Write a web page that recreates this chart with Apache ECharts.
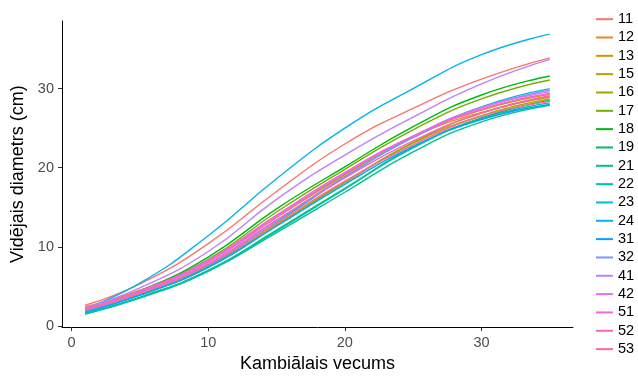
<!DOCTYPE html>
<html>
<head>
<meta charset="utf-8">
<script src="https://cdn.jsdelivr.net/npm/echarts@6/dist/echarts.min.js"></script>
<style>
  html, body { margin: 0; padding: 0; background: #ffffff; }
  #chart { width: 638px; height: 378px; }
</style>
</head>
<body>
<div id="chart"></div>
<script>
// Cambial age (years) at which each mean diameter is given
const ages = [1, 5, 10, 15, 20, 25, 30, 35];

// Group names, in legend order
const groups = ['11', '12', '13', '15', '16', '17', '18', '19', '21', '22',
                '23', '24', '31', '32', '41', '42', '51', '52', '53'];

// Mean diameter (cm) per group at each age above
const d11 = [2.6, 5.3, 10.4, 17.0, 23.0, 27.5, 31.2, 33.9];
const d12 = [2.4, 4.5, 8.3, 13.9, 19.2, 23.9, 27.0, 28.9];
const d13 = [2.3, 4.4, 8.2, 13.7, 19.1, 24.0, 27.3, 29.3];
const d15 = [2.1, 4.0, 7.5, 12.8, 18.2, 23.1, 26.6, 28.7];
const d16 = [2.0, 3.9, 7.4, 12.7, 18.1, 23.2, 26.9, 29.0];
const d17 = [1.9, 4.3, 8.4, 14.4, 19.8, 24.8, 28.7, 31.1];
const d18 = [2.0, 4.4, 8.7, 14.8, 20.1, 25.2, 29.2, 31.6];
const d19 = [1.6, 3.6, 7.0, 12.1, 17.4, 22.6, 26.3, 28.5];
const d21 = [1.5, 3.5, 6.9, 11.8, 16.9, 22.0, 25.8, 27.9];
const d22 = [1.5, 3.6, 7.0, 12.0, 17.3, 22.5, 26.2, 28.2];
const d23 = [1.7, 3.9, 7.6, 13.1, 18.8, 23.9, 27.7, 30.0];
const d24 = [2.2, 5.4, 11.4, 18.6, 25.0, 30.0, 34.3, 36.9];
const d31 = [1.8, 3.9, 7.4, 12.6, 17.9, 22.7, 26.1, 28.0];
const d32 = [1.9, 4.1, 7.8, 13.3, 18.9, 23.8, 27.6, 29.8];
const d41 = [2.3, 4.8, 9.4, 16.0, 21.6, 26.4, 30.6, 33.7];
const d42 = [2.1, 4.3, 8.1, 13.7, 19.3, 24.0, 27.6, 29.6];
const d51 = [2.2, 4.4, 8.3, 14.0, 19.4, 24.0, 27.4, 29.4];
const d52 = [2.0, 4.2, 7.9, 13.4, 18.7, 23.4, 26.9, 29.1];
const d53 = [2.1, 4.1, 7.7, 13.0, 18.3, 22.9, 26.5, 28.4];

const diameters = [d11, d12, d13, d15, d16, d17, d18, d19, d21, d22,
                   d23, d24, d31, d32, d41, d42, d51, d52, d53];

// Axis tick values
const xTicks = [0, 10, 20, 30];
const yTicks = [0, 10, 20, 30];

// Evenly spaced hues in HCL space (L = 65, C = 100), converted to sRGB hex
function hclColor(h) {
  const L = 65, C = 100;
  const hr = h * Math.PI / 180;
  const u = C * Math.cos(hr), v = C * Math.sin(hr);
  const Xn = 95.047, Yn = 100, Zn = 108.883;
  const Y = Yn * Math.pow((L + 16) / 116, 3);
  const den = Xn + 15 * Yn + 3 * Zn;
  const un = 4 * Xn / den, vn = 9 * Yn / den;
  const up = u / (13 * L) + un, vp = v / (13 * L) + vn;
  const X = Y * 9 * up / (4 * vp);
  const Z = Y * (12 - 3 * up - 20 * vp) / (4 * vp);
  const x = X / 100, y = Y / 100, z = Z / 100;
  const lin = [
    3.2404542 * x - 1.5371385 * y - 0.4985314 * z,
    -0.9692660 * x + 1.8760108 * y + 0.0415560 * z,
    0.0556434 * x - 0.2040259 * y + 1.0572252 * z
  ];
  return '#' + lin.map(function (c) {
    c = c <= 0.0031308 ? 12.92 * c : 1.055 * Math.pow(c, 1 / 2.4) - 0.055;
    c = Math.max(0, Math.min(1, c));
    const s = Math.round(c * 255).toString(16);
    return s.length < 2 ? '0' + s : s;
  }).join('');
}

const n = groups.length;
const colors = groups.map(function (g, i) { return hclColor(15 + 360 * i / n); });

const series = groups.map(function (g, i) {
  return {
    name: g,
    type: 'line',
    data: ages.map(function (a, k) { return [a, diameters[i][k]]; }),
    smooth: 0.5,
    showSymbol: false,
    symbol: 'none',
    lineStyle: { width: 1.4, color: colors[i] },
    itemStyle: { color: colors[i] },
    emphasis: { disabled: true },
    z: 2
  };
});

const tickFont = { fontFamily: 'Liberation Sans, Arial, sans-serif', fontSize: 14.5, color: '#4d4d4d' };
const titleFont = { fontFamily: 'Liberation Sans, Arial, sans-serif', fontSize: 18, color: '#000000' };

const chart = echarts.init(document.getElementById('chart'), null, { renderer: 'canvas' });
chart.setOption({
  animation: false,
  backgroundColor: '#ffffff',
  color: colors,
  grid: { left: 62, right: 65, top: 21, bottom: 45, containLabel: false },
  xAxis: {
    type: 'value',
    min: -0.7,
    max: 36.7,
    name: 'Kambiālais vecums',
    nameLocation: 'middle',
    nameGap: 17,
    nameTextStyle: titleFont,
    axisLine: { show: true, onZero: false, lineStyle: { color: '#000000', width: 1 } },
    axisTick: { show: true, length: 4, customValues: xTicks, lineStyle: { color: '#333333', width: 1 } },
    axisLabel: Object.assign({ margin: 8, customValues: xTicks }, tickFont),
    splitLine: { show: false }
  },
  yAxis: {
    type: 'value',
    min: -0.16,
    max: 38.56,
    name: 'Vidējais diametrs (cm)',
    nameLocation: 'middle',
    nameGap: 31,
    nameRotate: 90,
    nameTextStyle: titleFont,
    axisLine: { show: true, onZero: false, lineStyle: { color: '#000000', width: 1 } },
    axisTick: { show: true, length: 4, customValues: yTicks, lineStyle: { color: '#333333', width: 1 } },
    axisLabel: Object.assign({ margin: 8, customValues: yTicks }, tickFont),
    splitLine: { show: false }
  },
  legend: {
    orient: 'vertical',
    left: 596,
    top: 10,
    icon: 'rect',
    itemWidth: 17,
    itemHeight: 2,
    itemGap: 0,
    padding: 0,
    data: groups,
    textStyle: {
      fontFamily: 'Liberation Sans, Arial, sans-serif',
      fontSize: 14.5,
      color: '#000000',
      lineHeight: 18.33
    }
  },
  series: series
});
</script>
</body>
</html>
